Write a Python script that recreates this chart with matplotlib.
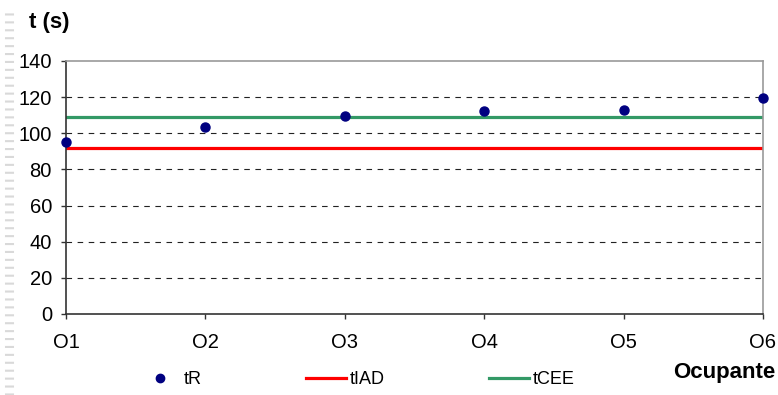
import matplotlib.pyplot as plt
from matplotlib.lines import Line2D

plt.rcParams['font.family'] = ['Liberation Sans', 'DejaVu Sans']
plt.rcParams['lines.scale_dashes'] = False

# occupants and measured / reference times (s)
ocupantes = ["O1", "O2", "O3", "O4", "O5", "O6"]
tR = [95, 103.6, 109.3, 112.3, 113, 119.5]
tIAD = [92, 92, 92, 92, 92, 92]
tCEE = [109, 109, 109, 109, 109, 109]
yticks = [0, 20, 40, 60, 80, 100, 120, 140]

fig = plt.figure(figsize=(7.78, 3.95), dpi=100)
ax = fig.add_axes([0.0848, 0.2051, 0.8959, 0.6405])

x = list(range(len(ocupantes)))

# dashed grid lines (except the top border)
for v in yticks[1:-1]:
    ax.axhline(v, color="#222222", lw=0.8, ls=(0, (4, 4)), zorder=1)

ax.plot(x, tIAD, color="#ff0000", lw=2.3, zorder=2, label="tIAD")
ax.plot(x, tCEE, color="#339966", lw=2.3, zorder=2, label="tCEE")
ax.plot(x, tR, ls="none", marker="o", ms=6.5, color="#000080",
        zorder=3, clip_on=False, label="tR")

ax.set_xlim(0, 5)
ax.set_ylim(0, 140)
ax.set_xticks(x)
ax.set_xticklabels(ocupantes)
ax.set_yticks(yticks)
ax.tick_params(axis="both", labelsize=14.5, direction="out", length=3.6,
               width=1, color="#333333")
ax.tick_params(axis="x", pad=10)
ax.tick_params(axis="y", pad=6.5)

for s in ["left", "bottom"]:
    ax.spines[s].set_color("#333333")
    ax.spines[s].set_linewidth(1.2)
for s in ["top", "right"]:
    ax.spines[s].set_color("#999999")
    ax.spines[s].set_linewidth(1.2)

fig.text(0.037, 0.944, "t (s)", fontsize=16, fontweight="bold",
         ha="left", va="center")
fig.text(0.997, 0.058, "Ocupante", fontsize=16, fontweight="bold",
         ha="right", va="center")

handles = [
    Line2D([], [], ls="none", marker="o", ms=6, color="#000080"),
    Line2D([], [], color="#ff0000", lw=2.3),
    Line2D([], [], color="#339966", lw=2.3),
]
fig.legend(handles, ["tR", "tIAD", "tCEE"], loc="center left",
           bbox_to_anchor=(0.18, 0.038), ncol=3, frameon=False,
           fontsize=13, handlelength=2.2, handletextpad=0.2,
           columnspacing=5.8, borderpad=0, borderaxespad=0)

# light dashed strip along the left edge
fig.add_artist(Line2D([0.012, 0.012], [0.0, 0.98], transform=fig.transFigure,
                      color="#d9d9d9", lw=6.5, ls=(0, (1.5, 4.2))))

fig.savefig("out.png", dpi=100)
